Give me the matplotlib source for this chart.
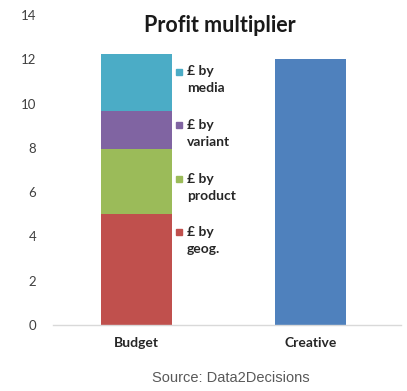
import matplotlib
matplotlib.use("Agg")
import matplotlib.pyplot as plt
from matplotlib.patches import Rectangle

categories = ["Budget", "Creative"]
series_names = ["£ by\ngeog.", "£ by\nproduct", "£ by\nvariant", "£ by\nmedia"]
budget_parts = [5.0, 2.95, 1.7, 2.6]
creative_total = [12.0]
series_colors = ["#C0504D", "#9BBB59", "#8064A2", "#4BACC6"]
creative_color = "#4F81BD"
yticks = [0, 2, 4, 6, 8, 10, 12, 14]

plt.rcParams["font.family"] = ["Lato", "DejaVu Sans"]

fig = plt.figure(figsize=(4.07, 3.91), dpi=100)
ax = fig.add_axes([0.130, 0.1688, 0.855, 0.793])

bar_w = 0.407
bottom = 0.0
for val, col in zip(budget_parts, series_colors):
    ax.bar(0, val, bottom=bottom, width=bar_w, color=col, edgecolor="none")
    bottom += val
ax.bar(1, creative_total[0], width=bar_w, color=creative_color, edgecolor="none")

ax.set_xlim(-0.478, 1.516)
ax.set_ylim(0, 14)
ax.set_yticks(yticks)
ax.set_yticklabels([str(t) for t in yticks], fontsize=9.5, color="#404040")
ax.set_xticks([0, 1])
ax.set_xticklabels(categories, fontsize=10, color="#262626", fontweight="bold")
ax.tick_params(axis="y", length=0, pad=12)
ax.tick_params(axis="x", length=0, pad=9)
for s in ["left", "right", "top"]:
    ax.spines[s].set_visible(False)
ax.spines["bottom"].set_color("#D9D9D9")
ax.spines["bottom"].set_linewidth(1.0)

# Legend drawn between the two bars, top entry = last series
n = len(series_names)
for i, (name, col) in enumerate(zip(series_names, series_colors)):
    k = n - 1 - i
    y_first = 0.817 - k * 0.1726
    ax.add_patch(Rectangle((0.362 - 0.0086, y_first - 0.0097), 0.0172, 0.0194,
                           transform=ax.transAxes, color=col, clip_on=False))
    ax.text(0.385, y_first + 0.020, name, transform=ax.transAxes, fontsize=10,
            va="top", ha="left", color="#262626", fontweight="bold",
            linespacing=1.5)

fig.text(0.541, 0.936, "Profit multiplier", ha="center", va="center",
         fontsize=15.5, fontweight="bold", color="#1a1a1a")
fig.text(0.568, 0.033, "Source: Data2Decisions", ha="center", va="center",
         fontsize=10.5, color="#595959", family=["Liberation Sans", "DejaVu Sans"])

fig.savefig("out.png", dpi=100)
